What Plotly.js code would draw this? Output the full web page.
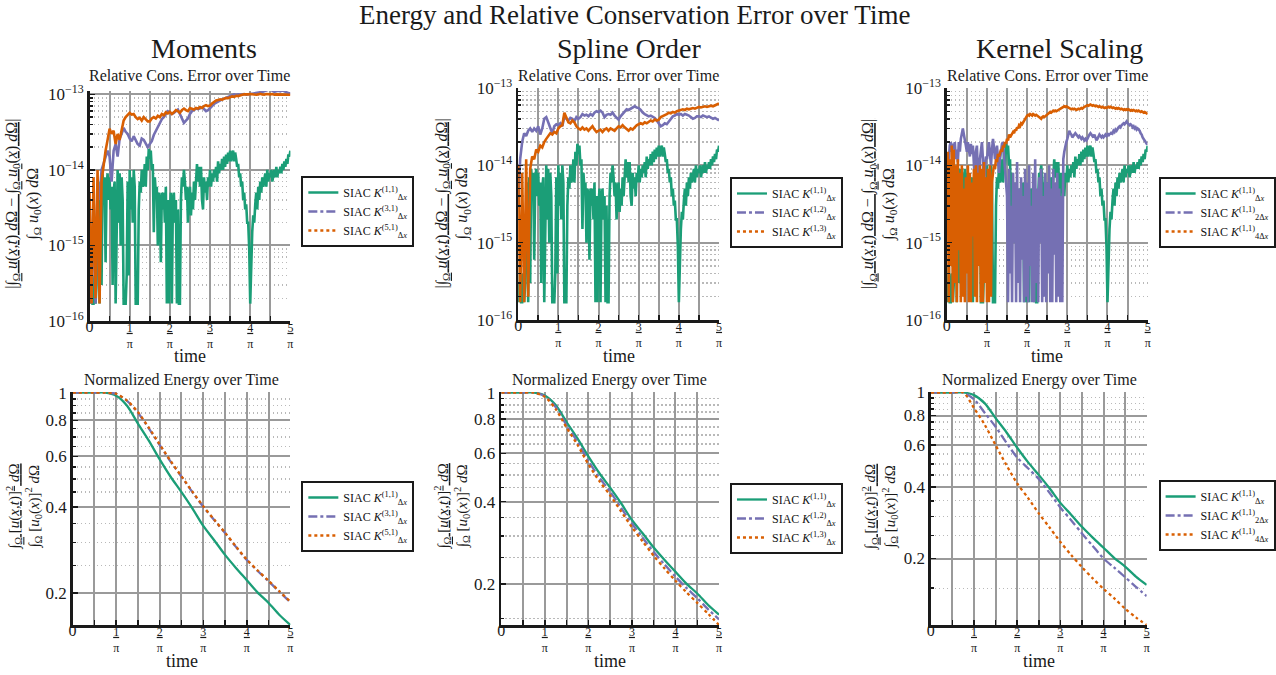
<!DOCTYPE html>
<html><head><meta charset="utf-8">
<script src="https://cdn.plot.ly/plotly-3.0.1.min.js"></script>
<style>html,body{margin:0;padding:0;background:#fff}</style>
</head><body><div id="chart" style="width:1276px;height:675px"></div>
<script>
// ---------------- DATA ----------------
// Every series is sampled uniformly over time = 0 .. 5/pi (first value at 0, last at 5/pi).

// Relative conservation error, SIAC K^(1,1)_dx (same in all three columns), 201 samples
const errK11 = [
 3e-16,1.7e-16,5e-16,1.7e-16,1.7e-16,4e-16,1.7e-16,3e-16,2e-15,6e-15,
 1.7e-16,7e-15,3e-16,9e-15,5e-15,8e-15,6e-16,6e-15,9e-15,4e-15,
 8e-15,3e-15,6e-15,3e-16,5e-15,7e-15,1.7e-16,3e-15,1e-14,2e-15,
 9e-15,1e-15,8e-15,4e-15,1.7e-16,1.7e-16,1.7e-16,4e-16,7e-15,4e-16,
 1e-14,3e-15,8e-15,2e-15,1e-14,6e-15,1.7e-16,1.7e-16,1.7e-16,3e-15,
 7e-15,5e-15,1e-14,6e-15,7e-15,1.2e-14,6e-15,1.5e-14,1e-14,1.9e-14,
 1.4e-14,1.8e-14,1e-14,1.2e-14,1.5e-15,8e-15,5e-15,6e-15,1e-15,5e-15,
 4e-15,6e-16,5e-15,3e-15,5e-15,2e-15,6e-15,1.7e-16,4e-15,1.7e-16,
 3e-15,5e-15,1.7e-16,4e-15,5e-15,2e-15,4e-15,1.7e-16,3e-15,1.7e-16,
 1.7e-16,4e-15,8e-15,6e-15,1e-14,7e-15,4e-15,6e-15,2e-15,5e-15,
 6e-15,2.5e-15,5e-15,3e-15,7e-15,4e-15,9e-15,1.2e-14,7e-15,1.1e-14,
 6e-15,1.1e-14,4e-15,3e-15,8e-15,5e-15,7e-15,4e-15,8e-15,6e-15,
 1e-14,6e-15,9e-15,7e-15,1e-14,8e-15,1.1e-14,7e-15,1.3e-14,9e-15,
 1.2e-14,1e-14,1.4e-14,1e-14,1.5e-14,1.1e-14,1.6e-14,1.2e-14,1.7e-14,1.3e-14,
 1.8e-14,1.3e-14,1.6e-14,1.8e-14,1.3e-14,1.7e-14,1.4e-14,1.1e-14,1.2e-14,8e-15,
 9e-15,6e-15,7e-15,4e-15,5e-15,3e-15,3.5e-15,2e-15,2e-15,9e-16,
 1.7e-16,6e-16,1.5e-15,2.5e-15,2e-15,3.5e-15,5e-15,3e-15,6e-15,4e-15,
 7e-15,5e-15,8e-15,6e-15,7e-15,9e-15,6e-15,1e-14,7e-15,9e-15,
 8e-15,1e-14,7e-15,9e-15,1e-14,8e-15,1.1e-14,8e-15,1e-14,9e-15,
 1.1e-14,9e-15,1.2e-14,1e-14,1.3e-14,1.1e-14,1.4e-14,1.2e-14,1.6e-14,1.5e-14,
 1.8e-14];

// Moments column (101 samples)
const errK31 = [
 3e-15,1.7e-16,5e-15,1.7e-16,6e-15,4e-15,1e-14,1.2e-14,1.4e-14,1.8e-14,
 1.5e-14,7e-15,1.8e-14,2.2e-14,1.5e-14,2.6e-14,3e-14,3.6e-14,3.2e-14,3e-14,
 2.6e-14,2.4e-14,2.8e-14,2.5e-14,2.2e-14,2.1e-14,2.6e-14,2.5e-14,2.2e-14,2e-14,
 2.2e-14,2.4e-14,2.9e-14,3.3e-14,3.8e-14,4.3e-14,4.7e-14,5e-14,5.6e-14,6e-14,
 5.8e-14,5.5e-14,5.7e-14,6e-14,6.3e-14,5.5e-14,4.8e-14,4.2e-14,4.5e-14,4.8e-14,
 5.5e-14,6e-14,6.2e-14,6.5e-14,6.4e-14,6.6e-14,6.7e-14,6.4e-14,6e-14,6.2e-14,
 6.5e-14,7e-14,7.5e-14,7.8e-14,8e-14,8.3e-14,8.6e-14,8.8e-14,9e-14,9.2e-14,
 9.4e-14,9.6e-14,1e-13,9.8e-14,1e-13,9.9e-14,1e-13,1.01e-13,9.9e-14,1e-13,
 1e-13,1.01e-13,1.02e-13,1.03e-13,1.04e-13,1.05e-13,1.08e-13,1.1e-13,1.13e-13,1.15e-13,
 1.16e-13,1.12e-13,1.08e-13,1.1e-13,1.12e-13,1.1e-13,1.13e-13,1.1e-13,1.06e-13,1.04e-13,
 1.03e-13];
const errK51 = [
 5e-15,1.7e-16,8e-15,2e-16,1e-14,1.7e-16,7e-15,1.2e-14,1.8e-14,2.5e-14,
 3.5e-14,3e-14,3.3e-14,2.2e-14,3e-14,2.5e-14,3.5e-14,4.5e-14,5e-14,5.3e-14,
 5.7e-14,5.4e-14,5.5e-14,5e-14,4.7e-14,4.9e-14,4.5e-14,5e-14,4.7e-14,4.4e-14,
 4.4e-14,4.8e-14,5e-14,4.8e-14,5.2e-14,5e-14,5.5e-14,5.3e-14,5.8e-14,5.6e-14,
 5.9e-14,5.5e-14,5.8e-14,6.2e-14,6e-14,5.7e-14,6.2e-14,6.5e-14,6.2e-14,6e-14,
 6.6e-14,6.4e-14,6.3e-14,6.6e-14,6.5e-14,6.8e-14,6.6e-14,7e-14,7.2e-14,7e-14,
 7.1e-14,7.6e-14,8e-14,8.3e-14,8.4e-14,8.6e-14,8.5e-14,8.8e-14,9e-14,8.9e-14,
 9.2e-14,9.4e-14,9.3e-14,9.6e-14,9.5e-14,9.8e-14,9.9e-14,1e-13,9.9e-14,1e-13,
 1.01e-13,1e-13,1.01e-13,9.9e-14,1e-13,1.02e-13,1e-13,9.9e-14,1.01e-13,1e-13,
 1e-13,1.01e-13,9.9e-14,1e-13,1e-13,9.8e-14,1e-13,9.9e-14,1e-13,9.8e-14,
 9.9e-14];

// Spline order column (101 samples)
const errK12 = [
 3e-15,1.2e-14,2e-14,2.6e-14,2.4e-14,2.8e-14,3e-14,2.7e-14,3e-14,2.8e-14,
 3.2e-14,2.5e-14,3e-14,4e-14,4.2e-14,3.6e-14,3e-14,2.6e-14,3.2e-14,3.4e-14,
 3.3e-14,3.5e-14,3.2e-14,4.3e-14,4e-14,3.8e-14,4.1e-14,4e-14,3.7e-14,4.2e-14,
 4e-14,4.2e-14,4.6e-14,4.4e-14,4.5e-14,4.3e-14,4.6e-14,4.4e-14,4.8e-14,5e-14,
 4.9e-14,5.1e-14,4.8e-14,4.2e-14,4.5e-14,4.6e-14,4.5e-14,4.8e-14,4.4e-14,4.1e-14,
 3.9e-14,4.3e-14,4.6e-14,5e-14,5.3e-14,5.2e-14,5.4e-14,5.6e-14,5.8e-14,5.6e-14,
 5.5e-14,5.2e-14,4.8e-14,4.6e-14,4.5e-14,4.3e-14,4.4e-14,4.2e-14,4.1e-14,3.8e-14,
 3.5e-14,3.2e-14,3.3e-14,3.5e-14,3.4e-14,3.7e-14,4.1e-14,4.3e-14,4.4e-14,4.6e-14,
 4.5e-14,4.6e-14,4.4e-14,4.6e-14,4.5e-14,4.4e-14,4.2e-14,4e-14,4.1e-14,4.3e-14,
 4.3e-14,4.2e-14,4.4e-14,4.3e-14,4.2e-14,4.3e-14,4.1e-14,4e-14,4.1e-14,3.9e-14,
 3.8e-14];
const errK13 = [
 1e-14,1.7e-16,8e-15,1.7e-16,1.2e-14,2e-16,9e-15,1.3e-14,1.2e-14,1.6e-14,
 1.5e-14,1.8e-14,1.7e-14,2e-14,2.2e-14,2.4e-14,2.6e-14,2.5e-14,2.7e-14,2.6e-14,
 3e-14,3.2e-14,3.3e-14,4.8e-14,4.2e-14,3.6e-14,3.5e-14,3.8e-14,3.6e-14,3.2e-14,
 3e-14,2.9e-14,3.1e-14,2.9e-14,3e-14,2.8e-14,3e-14,3.2e-14,2.9e-14,2.7e-14,
 2.8e-14,2.9e-14,2.7e-14,2.9e-14,3e-14,2.8e-14,3e-14,2.9e-14,2.8e-14,3e-14,
 3.2e-14,3.1e-14,3.3e-14,3.1e-14,2.9e-14,2.8e-14,3e-14,2.9e-14,3.1e-14,3.3e-14,
 3.4e-14,3.5e-14,3.4e-14,3.6e-14,3.5e-14,3.7e-14,3.8e-14,3.7e-14,3.9e-14,3.8e-14,
 3.9e-14,4.2e-14,4.3e-14,4.5e-14,4.6e-14,4.8e-14,4.7e-14,4.9e-14,4.8e-14,5e-14,
 5.1e-14,5.2e-14,5.3e-14,5.2e-14,5.4e-14,5.3e-14,5.4e-14,5.5e-14,5.4e-14,5.6e-14,
 5.7e-14,5.6e-14,5.7e-14,5.8e-14,5.7e-14,5.8e-14,5.9e-14,5.8e-14,6e-14,6.1e-14,
 6.3e-14];

// Kernel scaling column (201 samples)
const errK11s2 = [
 5e-15,8e-15,1.2e-14,1.8e-14,2e-14,1.5e-14,1.9e-14,1.6e-14,2e-14,1.2e-14,
 1.6e-14,1.1e-14,2e-14,1.5e-14,2.2e-14,2.6e-14,3e-14,2.5e-14,2.2e-14,1.8e-14,
 1.5e-14,2e-14,1.6e-14,1.3e-14,1.9e-14,1.4e-14,1.8e-14,1e-14,6e-15,1.5e-14,
 1.8e-14,8e-15,4e-15,1.2e-14,1.5e-14,2e-14,1.2e-14,5e-15,9e-15,1.3e-14,
 1.2e-14,1.8e-14,2e-14,1.4e-14,1e-14,1.6e-14,2.2e-14,1.7e-14,1.2e-14,1.5e-14,
 1.8e-14,1.2e-14,8e-15,1.2e-14,1.5e-14,1.9e-14,2e-14,1.4e-14,1e-14,6e-15,
 4e-15,1.7e-16,9e-15,4e-16,3e-15,1.7e-16,8e-15,1e-15,6e-15,1.7e-16,
 1.1e-14,3e-16,5e-15,1.7e-16,7e-15,6e-16,4e-15,1.7e-16,9e-15,2e-16,
 6e-15,1.7e-16,1e-14,5e-16,3e-15,1.7e-16,8e-15,1.7e-16,1.2e-14,3e-16,
 5e-15,1.7e-16,7e-15,1e-15,9e-15,1.7e-16,4e-15,2e-16,8e-15,1.7e-16,
 6e-15,4e-16,1e-14,1.7e-16,5e-15,1.7e-16,9e-15,7e-16,6e-15,1.7e-16,
 8e-15,2e-16,5e-15,1.7e-16,4e-15,1.7e-16,1.2e-14,1.5e-14,1.8e-14,2e-14,
 2.2e-14,2.5e-14,2.8e-14,2.6e-14,2.5e-14,2.3e-14,2.4e-14,2.5e-14,2.6e-14,2.5e-14,
 2.4e-14,2.3e-14,2.4e-14,2.3e-14,2.2e-14,2.3e-14,2.2e-14,2.1e-14,2.2e-14,2.1e-14,
 2.2e-14,2.4e-14,2.5e-14,2.6e-14,2.5e-14,2.4e-14,2.3e-14,2.5e-14,2.2e-14,2.1e-14,
 2.2e-14,2.3e-14,2.5e-14,2.4e-14,2.3e-14,2.4e-14,2.3e-14,2.4e-14,2.5e-14,2.4e-14,
 2.5e-14,2.4e-14,2.6e-14,2.5e-14,2.7e-14,2.6e-14,2.8e-14,2.7e-14,2.9e-14,2.8e-14,
 3e-14,3.1e-14,3.2e-14,3.1e-14,3.3e-14,3.4e-14,3.5e-14,3.4e-14,3.6e-14,3.7e-14,
 3.5e-14,3.4e-14,3.3e-14,3.4e-14,3.3e-14,3.1e-14,3.2e-14,3e-14,3.1e-14,2.9e-14,
 3e-14,2.9e-14,2.8e-14,2.6e-14,2.5e-14,2.3e-14,2.2e-14,2.1e-14,2e-14,1.9e-14,
 1.9e-14];
const errK11s4 = [
 3e-15,1.5e-14,1.7e-16,1.2e-14,5e-16,1.8e-14,1.7e-16,1.6e-14,3e-16,1e-14,
 1.7e-16,1.2e-14,8e-16,8e-15,1.7e-16,1e-14,2e-16,5e-15,1.7e-16,7e-15,
 4e-16,1e-14,1.7e-16,8e-15,1.7e-16,6e-15,1.2e-15,9e-15,2e-16,1e-14,
 1.7e-16,8e-15,5e-16,1e-14,1.7e-16,9e-15,1.7e-16,1.1e-14,3e-16,7e-15,
 1.7e-16,9e-15,1.7e-16,1e-14,2e-16,6e-15,8e-15,1e-14,9e-15,1.2e-14,
 1.1e-14,1.4e-14,1.3e-14,1.5e-14,1.6e-14,1.5e-14,1.8e-14,1.7e-14,2e-14,1.9e-14,
 2.2e-14,2.1e-14,2.5e-14,2.3e-14,2.4e-14,2.6e-14,2.7e-14,2.6e-14,2.9e-14,2.8e-14,
 3.1e-14,3e-14,3.3e-14,3.2e-14,3.5e-14,3.4e-14,3.6e-14,3.8e-14,3.9e-14,4.2e-14,
 4.4e-14,4.5e-14,4.4e-14,4.6e-14,4.5e-14,4.4e-14,4.6e-14,4.5e-14,4.4e-14,4.5e-14,
 4.4e-14,4.3e-14,4.2e-14,4.1e-14,4e-14,4.2e-14,4.3e-14,4.2e-14,4.3e-14,4.4e-14,
 4.5e-14,4.6e-14,4.7e-14,4.9e-14,4.8e-14,5e-14,5.1e-14,5e-14,5.1e-14,5e-14,
 5.1e-14,5.2e-14,5.3e-14,5.4e-14,5.5e-14,5.6e-14,5.7e-14,5.8e-14,5.7e-14,5.8e-14,
 5.7e-14,5.6e-14,5.5e-14,5.4e-14,5.3e-14,5.4e-14,5.3e-14,5.4e-14,5.3e-14,5.2e-14,
 5.3e-14,5.4e-14,5.3e-14,5.4e-14,5.5e-14,5.4e-14,5.6e-14,5.7e-14,5.8e-14,5.9e-14,
 6e-14,5.9e-14,6e-14,6.1e-14,6e-14,5.9e-14,6e-14,5.9e-14,5.8e-14,5.9e-14,
 5.8e-14,5.7e-14,5.8e-14,5.7e-14,5.6e-14,5.7e-14,5.6e-14,5.5e-14,5.6e-14,5.5e-14,
 5.6e-14,5.7e-14,5.6e-14,5.7e-14,5.6e-14,5.5e-14,5.6e-14,5.5e-14,5.4e-14,5.5e-14,
 5.4e-14,5.5e-14,5.4e-14,5.3e-14,5.4e-14,5.3e-14,5.2e-14,5.3e-14,5.2e-14,5.3e-14,
 5.2e-14,5.3e-14,5.2e-14,5.1e-14,5.2e-14,5.1e-14,5.2e-14,5.1e-14,5e-14,5.1e-14,
 5e-14,5.1e-14,5e-14,4.9e-14,5e-14,4.9e-14,4.8e-14,4.9e-14,4.8e-14,4.7e-14,
 4.8e-14];

// Normalized energy (21 samples)
const energyK11   = [1,1,1,1,0.975,0.9,0.78,0.68,0.585,0.509,0.45,0.395,0.343,0.306,0.272,0.245,0.222,0.201,0.185,0.168,0.155];
const energyK31   = [1,1,1,1,0.99,0.935,0.85,0.75,0.656,0.575,0.509,0.45,0.40,0.36,0.324,0.29,0.261,0.239,0.22,0.202,0.186];
const energyK51   = [1,1,1,1,0.99,0.938,0.855,0.755,0.66,0.578,0.511,0.452,0.402,0.361,0.325,0.291,0.262,0.24,0.221,0.203,0.187];
const energyK12   = [1,1,1,1,0.97,0.885,0.76,0.662,0.563,0.49,0.435,0.38,0.333,0.295,0.262,0.236,0.213,0.194,0.178,0.162,0.149];
const energyK13   = [1,1,1,1,0.965,0.87,0.745,0.645,0.548,0.476,0.422,0.369,0.323,0.286,0.254,0.228,0.206,0.187,0.171,0.156,0.142];
const energyK11s2 = [1,1,1,1,0.935,0.82,0.717,0.615,0.532,0.48,0.432,0.378,0.328,0.29,0.255,0.226,0.2,0.183,0.167,0.152,0.139];
const energyK11s4 = [1,1,1,1,0.86,0.73,0.6,0.495,0.414,0.36,0.31,0.27,0.235,0.207,0.184,0.165,0.149,0.136,0.123,0.113,0.105];

// Labels
const columnTitles = ['Moments', 'Spline Order', 'Kernel Scaling'];
const legendNames = [
  ['SIAC <i>K</i><sup>(1,1)</sup><sub>Δ<i>x</i></sub>', 'SIAC <i>K</i><sup>(3,1)</sup><sub>Δ<i>x</i></sub>', 'SIAC <i>K</i><sup>(5,1)</sup><sub>Δ<i>x</i></sub>'],
  ['SIAC <i>K</i><sup>(1,1)</sup><sub>Δ<i>x</i></sub>', 'SIAC <i>K</i><sup>(1,2)</sup><sub>Δ<i>x</i></sub>', 'SIAC <i>K</i><sup>(1,3)</sup><sub>Δ<i>x</i></sub>'],
  ['SIAC <i>K</i><sup>(1,1)</sup><sub>Δ<i>x</i></sub>', 'SIAC <i>K</i><sup>(1,1)</sup><sub>2Δ<i>x</i></sub>', 'SIAC <i>K</i><sup>(1,1)</sup><sub>4Δ<i>x</i></sub>']
];
const errTickVals = [1e-16, 1e-15, 1e-14, 1e-13];
const errTickText = ['10<sup>−16</sup>', '10<sup>−15</sup>', '10<sup>−14</sup>', '10<sup>−13</sup>'];
const energyTickVals = [0.2, 0.4, 0.6, 0.8, 1];
const energyTickText = ['0.2', '0.4', '0.6', '0.8', '1'];
const energyMinor = [0.15,0.25,0.3,0.35,0.45,0.5,0.55,0.65,0.7,0.75,0.85,0.9,0.95];

// ---------------- STYLE / LAYOUT ----------------
const W = 1276, H = 675;
const PX = p => p / W;
const PY = p => 1 - p / H;
const FONT = '"Liberation Serif", "Times New Roman", serif';
const COL = ['#1b9e77', '#7570b3', '#d95f02'];
const DASH = ['solid', 'dashdot', 'dot'];
const T_END = 5 / Math.PI;
const timeFor = vals => vals.map((_, i) => i * T_END / (vals.length - 1));

const errCols = [[errK11, errK31, errK51], [errK11, errK12, errK13], [errK11, errK11s2, errK11s4]];
const enCols = [[energyK11, energyK31, energyK51], [energyK11, energyK12, energyK13], [energyK11, energyK11s2, energyK11s4]];

// panel boxes in pixels [x0,x1,y0(top),y1(bottom)]
const panels = [
  {box: [90, 292, 91, 321], range: [-16, -12.955]},
  {box: [521, 723, 88, 320], range: [-16, -13]},
  {box: [952, 1154, 88, 320], range: [-16, -13]},
  {box: [73, 292, 392, 625], range: [Math.log10(0.155), 0.002]},
  {box: [504, 723, 392, 625], range: [Math.log10(0.142), 0.002]},
  {box: [936, 1153, 392, 625], range: [Math.log10(0.105), 0.002]}
];
const legendPos = [[303, 176], [734, 177], [1165, 177], [303, 481], [734, 483], [1165, 480]];

const xTickVals = [], xTickText = [];
for (let k = 0; k <= 10; k++) {
  xTickVals.push(k * 0.5 / Math.PI);
  xTickText.push(k % 2 ? '' : (k === 0 ? '<span style="font-size:16px">0</span>' : '<u>' + (k / 2) + '</u><br>π'));
}
const errMinor = [];
for (let e = -16; e <= -14; e++) for (let m = 2; m <= 9; m++) errMinor.push(m * Math.pow(10, e));

const GRID = '#9a9a9a', MINOR = '#b9b9b9', AXC = '#1a1a1a';
const layout = {
  width: W, height: H, margin: {l: 0, r: 0, t: 0, b: 0},
  paper_bgcolor: '#fff', plot_bgcolor: '#fff',
  font: {family: FONT, color: '#1a1a1a'},
  showlegend: true, hovermode: false,
  annotations: []
};

const traces = [];
panels.forEach((p, idx) => {
  const n = idx + 1;
  const sfx = n === 1 ? '' : String(n);
  const xr = 'x' + sfx, yr = 'y' + sfx;
  const [x0, x1, y0, y1] = p.box;
  const top = idx < 3;
  layout['xaxis' + sfx] = {
    domain: [PX(x0), PX(x1)], anchor: yr, range: [0, T_END],
    tickmode: 'array', tickvals: xTickVals, ticktext: xTickText,
    ticks: 'inside', ticklen: 5, tickwidth: 1.5, tickcolor: AXC, ticklabelstandoff: -6,
    showline: true, linecolor: AXC, linewidth: 2.5,
    showgrid: true, gridcolor: GRID, gridwidth: 2, zeroline: false,
    tickfont: {family: FONT, size: 12, color: '#1a1a1a'}, fixedrange: true
  };
  layout['yaxis' + sfx] = {
    domain: [PY(y1), PY(y0)], anchor: xr, type: 'log', range: p.range,
    tickmode: 'array',
    tickvals: top ? errTickVals : energyTickVals,
    ticktext: top ? errTickText : energyTickText,
    ticks: 'inside', ticklen: 5, tickwidth: 1.5, tickcolor: AXC,
    showline: true, linecolor: AXC, linewidth: 2.5,
    showgrid: true, gridcolor: GRID, gridwidth: 2, zeroline: false,
    tickfont: {family: FONT, size: 17, color: '#1a1a1a'}, fixedrange: true,
    minor: {tickmode: 'array', tickvals: top ? errMinor : energyMinor, ticks: 'inside', ticklen: 3,
            tickcolor: AXC, showgrid: true, gridcolor: MINOR, griddash: '1.5px,2.5px', gridwidth: 1.4}
  };
  const col = idx % 3;
  const legKey = 'legend' + sfx;
  layout[legKey] = {
    x: PX(legendPos[idx][0]), y: PY(legendPos[idx][1]), xanchor: 'left', yanchor: 'top',
    bgcolor: '#fff', bordercolor: '#1a1a1a', borderwidth: 2,
    font: {family: FONT, size: 12, color: '#111'}, itemwidth: 30, tracegroupgap: 0
  };
  if (top) {
    errCols[col].forEach((vals, s) => {
      traces.push({
        x: timeFor(vals), y: vals, xaxis: xr, yaxis: yr,
        mode: 'lines', line: {color: COL[s], width: 2.6}, showlegend: false, hoverinfo: 'skip'
      });
    });
    // legend keys showing each series' line style
    errCols[col].forEach((vals, s) => {
      traces.push({
        x: [null], y: [null], xaxis: xr, yaxis: yr, mode: 'lines',
        line: {color: COL[s], width: 2.3, dash: DASH[s]}, name: legendNames[col][s],
        legend: legKey, showlegend: true
      });
    });
  } else {
    enCols[col].forEach((vals, s) => {
      traces.push({
        x: timeFor(vals), y: vals, xaxis: xr, yaxis: yr,
        mode: 'lines', line: {color: COL[s], width: 2.3, dash: DASH[s], shape: 'spline', smoothing: 0.8},
        name: legendNames[col][s], legend: legKey, showlegend: true, hoverinfo: 'skip'
      });
    });
  }
});

function ann(text, x, y, size, extra) {
  layout.annotations.push(Object.assign({
    text, x: PX(x), y: PY(y), xref: 'paper', yref: 'paper', showarrow: false,
    xanchor: 'center', yanchor: 'middle', font: {family: FONT, size, color: '#1a1a1a'}
  }, extra || {}));
}
ann('Energy and Relative Conservation Error over Time', 638, 15, 27);
ann(columnTitles[0], 205, 48, 28);
ann(columnTitles[1], 633, 48, 28);
ann(columnTitles[2], 1065, 48, 28);
[191, 622, 1053].forEach(x => ann('Relative Cons. Error over Time', x, 75, 16));
[183, 613, 1045].forEach(x => ann('Normalized Energy over Time', x, 380, 16));
[191, 622, 1053].forEach(x => ann('time', x, 356, 18));
[183, 613, 1045].forEach(x => ann('time', x, 661, 18));
const yTitleErr = '<u>|∫<sub>Ω</sub> <i>u</i>(<i>x,t</i>) <i>d</i>Ω − ∫<sub>Ω</sub> <i>u</i><sub>0</sub>(<i>x</i>) <i>d</i>Ω|</u><br>∫<sub>Ω</sub> <i>u</i><sub>0</sub>(<i>x</i>) <i>d</i>Ω';
const yTitleEn = '<u>∫<sub>Ω</sub> [<i>u</i>(<i>x,t</i>)]<sup>2</sup> <i>d</i>Ω</u><br>∫<sub>Ω</sub> [<i>u</i><sub>0</sub>(<i>x</i>)]<sup>2</sup> <i>d</i>Ω';
[23, 455, 884].forEach(x => ann(yTitleErr, x, 204, 16, {textangle: -90}));
[24, 455, 885].forEach(x => ann(yTitleEn, x, 507, 15, {textangle: -90}));

Plotly.newPlot('chart', traces, layout, {staticPlot: true, displayModeBar: false});
</script>
</body></html>
